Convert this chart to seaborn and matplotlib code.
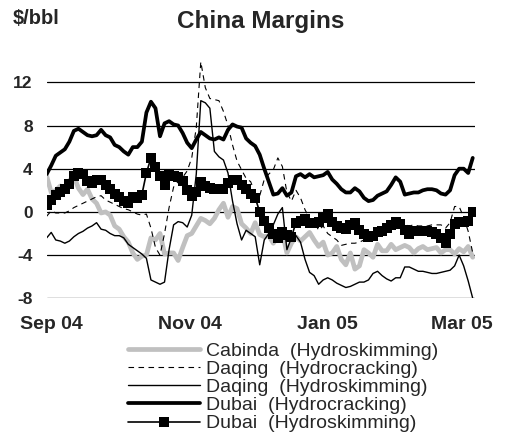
import matplotlib
matplotlib.use("Agg")
import matplotlib.pyplot as plt
from matplotlib.lines import Line2D
import numpy as np
import pandas as pd
import seaborn as sns

# Refining margins, $/bbl, sampled every second day from 30 Aug 2004
cabinda_hsk = [
    3.3, 1.8, 2.0, 2.4, 1.9, 2.9, 3.3, 2.2, 1.6, 2.1,
    1.2, 0.8, -0.1, 0.0, -0.3, -1.3, -1.6, -2.3, -2.8, -3.8,
    -4.4, -4.1, -4.0, -2.4, -2.6, -2.0, -3.9, -3.8, -3.8, -4.5,
    -3.3, -2.2, -2.0, -1.3, -0.6, -0.8, -1.1, -0.6, 0.2, 0.8,
    -0.5, 0.5, 0.3, -1.1, -1.5, -2.0, -1.0, -2.1, -2.3, -2.2,
    -2.9, -2.3, -1.9, -3.8, -2.9, -2.3, -2.7, -2.3, -1.9, -2.6,
    -3.2, -2.8, -4.0, -3.8, -3.2, -4.4, -4.9, -3.8, -5.3, -5.0,
    -3.5, -3.8, -4.2, -3.0, -3.6, -3.6, -3.0, -3.5, -3.3, -3.1,
    -3.3, -3.8, -3.4, -3.2, -3.5, -3.4, -3.3, -3.8, -3.5, -3.5,
    -3.9, -3.4, -3.7, -3.2, -4.2,
]
daqing_hcr = [
    -0.4, 0.1, -0.1, -0.1, -0.1, 0.1, 0.4, 0.6, 0.8, 1.0,
    1.2, 1.4, 1.5, 1.1, 0.9, 0.7, 0.5, 0.3, 0.2, 0.0,
    -0.2, -0.3, -0.2, -1.5, -3.3, -4.0, -2.0, 0.4, 2.3, 2.8,
    3.2, 3.8, 5.0, 7.8, 13.9, 11.5, 10.5, 10.4, 10.3, 9.3,
    8.0, 6.2, 4.7, 3.9, 3.1, 2.8, 1.7, 1.5, 3.0, 3.5,
    3.9, 5.0, 4.2, 1.8, 1.0, 2.0, 1.3, 0.2, -0.6, -0.9,
    -1.7, -1.3, -2.0, -2.3, -2.6, -3.1, -3.0, -2.9, -2.9, -2.8,
    -2.6, -2.4, -2.1, -1.9, -1.8, -1.6, -1.5, -1.3, -1.2, -1.2,
    -1.3, -1.2, -1.3, -1.3, -1.3, -1.2, -1.2, -1.2, -1.5, -1.0,
    0.5, 0.5, -0.5, -1.8, -3.8,
]
daqing_hsk = [
    -2.4, -1.9, -2.6, -2.7, -2.9, -2.7, -2.3, -2.0, -1.8, -1.5,
    -1.3, -1.0, -1.6, -1.7, -2.0, -2.2, -2.2, -2.4, -3.0, -3.3,
    -3.6, -3.9, -4.3, -6.3, -6.5, -6.7, -6.5, -3.5, -1.2, -0.9,
    -1.0, -1.4, -0.3, 3.5, 10.3, 10.1, 9.6, 5.6, 5.1, 4.8,
    3.6, 1.0, -1.1, -2.6, -1.7, -2.0, -2.3, -4.9, -2.6, -2.0,
    -1.2, -0.2, 0.4, -3.5, -2.4, -2.2, -2.8, -4.4, -5.6, -5.9,
    -6.7, -6.3, -6.1, -6.3, -6.6, -6.8, -7.0, -6.9, -6.7, -6.5,
    -6.5, -6.3, -5.7, -5.5, -5.9, -6.2, -6.4, -6.1, -6.1, -5.1,
    -5.1, -5.3, -5.5, -5.5, -5.6, -5.7, -5.7, -5.6, -5.5, -5.4,
    -5.0, -4.0, -5.0, -6.4, -8.0,
]
dubai_hcr = [
    3.5, 4.3, 5.2, 5.5, 5.8, 6.5, 7.5, 7.7, 7.4, 7.1,
    7.0, 7.1, 7.6, 7.1, 6.9, 6.2, 6.0, 5.6, 5.3, 6.0,
    6.0, 6.5, 9.2, 10.2, 9.6, 7.0, 8.2, 8.4, 8.1, 8.0,
    7.3, 6.4, 5.9, 6.7, 7.4, 7.1, 6.8, 6.7, 6.9, 6.7,
    7.6, 8.1, 7.9, 7.8, 6.8, 6.4, 6.1, 5.3, 4.0, 2.8,
    1.6, 1.7, 2.2, 1.5, 1.8, 3.3, 3.5, 3.2, 3.5, 3.2,
    3.3, 3.4, 3.7, 3.0, 2.6, 2.1, 1.8, 1.8, 2.2, 1.9,
    1.3, 1.0, 1.1, 1.5, 1.7, 1.9, 2.5, 3.2, 2.8, 1.6,
    1.7, 1.8, 1.8, 2.0, 2.1, 2.1, 2.0, 1.7, 1.6, 2.0,
    3.4, 4.0, 4.0, 3.6, 5.0,
]
dubai_hsk = [
    0.6, 1.1, 1.6, 1.8, 2.1, 2.6, 3.3, 3.6, 3.5, 2.9,
    2.7, 3.0, 3.0, 2.5, 2.1, 1.7, 1.4, 1.0, 0.8, 1.4,
    1.3, 1.6, 3.6, 5.0, 4.2, 3.3, 2.5, 3.4, 3.3, 3.2,
    2.9, 2.0, 1.5, 1.8, 2.8, 2.4, 2.2, 2.1, 2.1, 2.1,
    2.7, 3.0, 3.0, 2.5, 2.1, 1.7, 1.3, 0.0, -0.8, -1.5,
    -2.0, -2.4, -1.9, -2.1, -2.3, -1.0, -0.8, -0.7, -1.0, -1.0,
    -0.9, -0.6, -0.2, -0.9, -1.3, -1.5, -1.6, -1.2, -1.0, -1.7,
    -2.0, -2.3, -2.2, -1.9, -1.8, -1.5, -1.2, -0.9, -1.1, -1.7,
    -2.0, -1.8, -1.8, -1.8, -1.8, -1.9, -2.0, -2.4, -2.9, -2.0,
    -1.1, -0.9, -0.9, -0.8, 0.0,
]

series_labels = [
    "Cabinda  (Hydroskimming)",
    "Daqing  (Hydrocracking)",
    "Daqing  (Hydroskimming)",
    "Dubai  (Hydrocracking)",
    "Dubai  (Hydroskimming)",
]
y_ticks = [-8, -4, 0, 4, 8, 12]
x_tick_dates = ["2004-09-01", "2004-11-01", "2005-01-01", "2005-03-01"]
x_tick_labels = ["Sep 04", "Nov 04", "Jan 05", "Mar 05"]

dates = pd.date_range("2004-08-30", periods=len(dubai_hcr), freq="2D")

sns.set_theme(style="white")
plt.rcParams["font.family"] = ["Liberation Sans", "DejaVu Sans"]

W, H = 507, 441
fig = plt.figure(figsize=(W / 100, H / 100), dpi=100)
fig.patch.set_facecolor("white")
ax = fig.add_axes([46.7 / W, 1 - 298.3 / H, (475 - 46.7) / W, (298.3 - 39.1) / H])
ax.set_facecolor("white")

styles = [
    dict(color="#c0c0c0", linewidth=3.4),
    dict(color="black", linewidth=0.8, linestyle=(0, (5, 4))),
    dict(color="black", linewidth=1.0),
    dict(color="black", linewidth=2.7),
    dict(color="black", linewidth=1.2, marker="s", markersize=6.5,
         markeredgewidth=0, markerfacecolor="black"),
]
all_series = [cabinda_hsk, daqing_hcr, daqing_hsk, dubai_hcr, dubai_hsk]

for vals, st in zip(all_series, styles):
    sns.lineplot(x=dates, y=vals, ax=ax, legend=False, **st)

ax.set_ylim(-8, 16)
ax.set_yticks(y_ticks)
ax.set_yticklabels([str(v) for v in y_ticks], fontsize=12.5, fontweight="bold")
ax.set_xlim(dates[0], dates[-1] + pd.Timedelta(days=1))
ax.set_xticks(pd.to_datetime(x_tick_dates))
ax.set_xticklabels(x_tick_labels, fontsize=14, fontweight="bold")
ax.tick_params(axis="y", length=0, pad=10)
ax.tick_params(axis="x", length=0, pad=13)
ax.set_xlabel("")
ax.set_ylabel("")
ax.yaxis.grid(True, color="black", linewidth=0.9)
ax.xaxis.grid(False)
ax.set_axisbelow(True)
for s in ax.spines.values():
    s.set_visible(False)

fig.text(261 / W, 1 - 28 / H, "China Margins", ha="center", va="baseline",
         fontsize=17.5, fontweight="bold")
fig.text(13 / W, 1 - 24 / H, "$/bbl", ha="left", va="baseline",
         fontsize=14.5, fontweight="bold")

handles = [Line2D([], [], **st) for st in styles]
fig.legend(handles, series_labels, loc="upper left",
           bbox_to_anchor=(128 / W, 1 - 342 / H), frameon=False,
           fontsize=14, handlelength=3.7, handletextpad=0.3,
           labelspacing=0.03, borderpad=0, borderaxespad=0, numpoints=1)

fig.savefig("out.png", dpi=100, facecolor="white")
